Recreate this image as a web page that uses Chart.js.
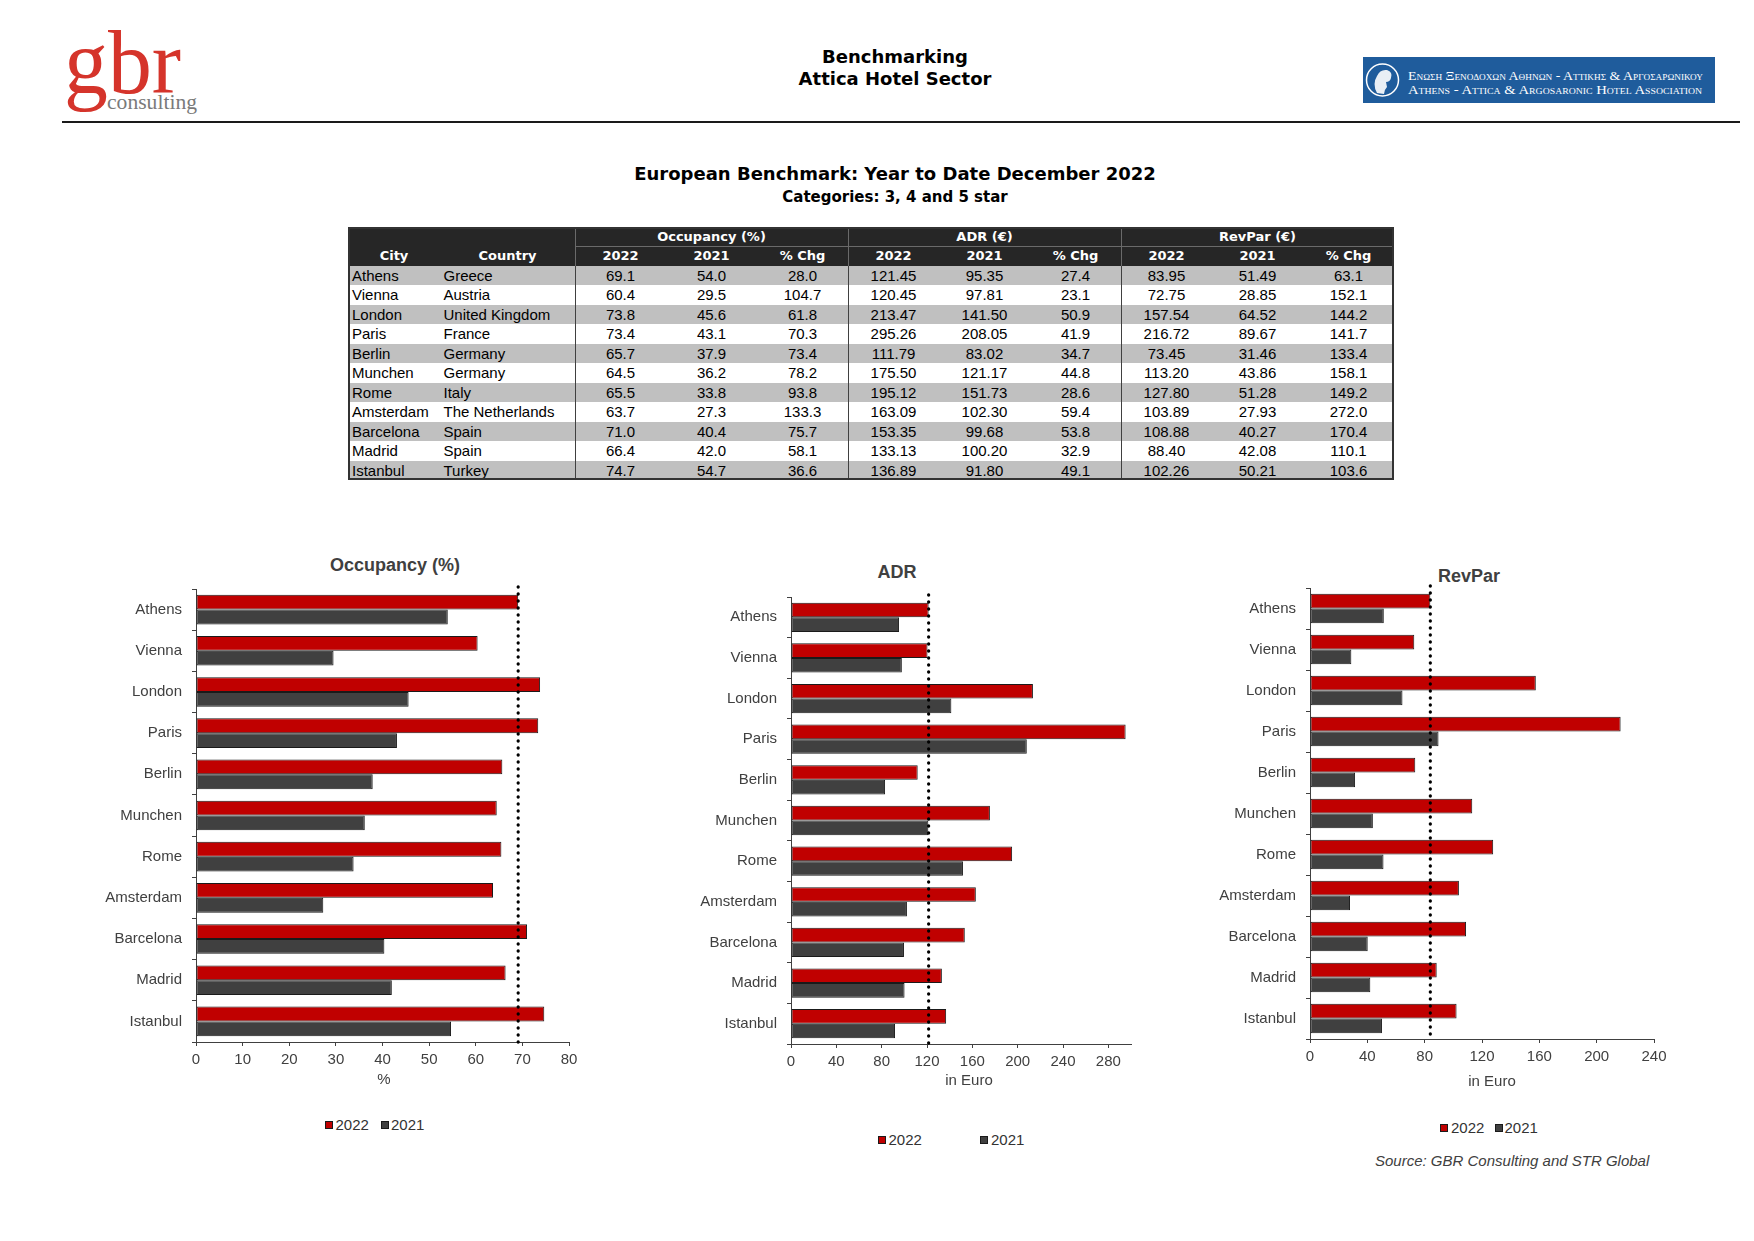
<!DOCTYPE html>
<html>
<head>
<meta charset="utf-8">
<script src="https://cdn.jsdelivr.net/npm/chart.js@4.4.1/dist/chart.umd.min.js"></script>
<style>
html,body{margin:0;padding:0;background:#fff;}
#page{position:relative;width:1754px;height:1241px;overflow:hidden;font-family:"Liberation Sans",Arial,sans-serif;background:#fff;}
.abs{position:absolute;}
.ctr{position:absolute;text-align:center;white-space:nowrap;}
.hdr{font-family:"DejaVu Sans",Verdana,sans-serif;font-weight:bold;color:#000;}
.ctitle{font-family:"Liberation Sans",Arial,sans-serif;font-weight:bold;font-size:18px;line-height:22px;color:#404040;}
#tbl{position:absolute;left:348px;top:227px;width:1046px;height:253px;}
.cell{position:absolute;white-space:nowrap;font-size:15px;color:#000;}
.hcell{position:absolute;white-space:nowrap;font-family:"DejaVu Sans",Verdana,sans-serif;font-weight:bold;font-size:13px;color:#fff;text-align:center;}
.lgbox{position:absolute;width:8px;height:8px;box-sizing:border-box;border:1px solid #1a1a1a;}
.lgtxt{position:absolute;font-size:15px;line-height:18px;color:#333;white-space:nowrap;}
canvas{position:absolute;display:block;}
</style>
</head>
<body>
<div id="page">
<svg class="abs" style="left:0;top:0" width="1754" height="130">
  <text x="64" y="93" font-family="Liberation Serif, Times New Roman, serif" font-size="92" fill="#d5342b" textLength="117" lengthAdjust="spacingAndGlyphs">gbr</text>
  <text x="107" y="109" font-family="Liberation Serif, Times New Roman, serif" font-size="21" fill="#7a7a7a" textLength="90" lengthAdjust="spacingAndGlyphs">consulting</text>
  <rect x="62" y="121" width="1678" height="2" fill="#1a1a1a"/>
  <rect x="1363" y="57" width="352" height="46" fill="#1f5c9c"/>
  <circle cx="1382.5" cy="80" r="16" fill="none" stroke="#fff" stroke-width="1.5"/>
  <path d="M1377 93 q-5 -9 0 -17 q3 -7 10 -6 q6 2 4 8 q-1 4 -5 4 l1 5 q-3 3 -3 7 z" fill="#fff" opacity="0.9"/>
  <text x="1408" y="80" font-family="Liberation Serif, DejaVu Serif, serif" font-size="13.5" fill="#fff" textLength="295" lengthAdjust="spacingAndGlyphs" style="font-variant:small-caps">Ενωση Ξενοδοχων Αθηνων - Αττικης &amp; Αργοσαρωνικου</text>
  <text x="1408" y="94" font-family="Liberation Serif, DejaVu Serif, serif" font-size="13.5" fill="#fff" textLength="294" lengthAdjust="spacingAndGlyphs" style="font-variant:small-caps">Athens - Attica &amp; Argosaronic Hotel Association</text>
</svg>

<div class="ctr hdr" style="left:595px;width:600px;top:46px;font-size:18px;line-height:22px;">Benchmarking</div>
<div class="ctr hdr" style="left:595px;width:600px;top:68px;font-size:18px;line-height:22px;">Attica Hotel Sector</div>
<div class="ctr hdr" style="left:495px;width:800px;top:163px;font-size:18px;line-height:22px;">European Benchmark: Year to Date December 2022</div>
<div class="ctr hdr" style="left:595px;width:600px;top:187px;font-size:15px;line-height:20px;">Categories: 3, 4 and 5 star</div>

<div id="tbl"></div>

<div class="ctr ctitle" style="left:245px;width:300px;top:554px;">Occupancy (%)</div>
<div class="ctr ctitle" style="left:747px;width:300px;top:561px;">ADR</div>
<div class="ctr ctitle" style="left:1319px;width:300px;top:565px;">RevPar</div>

<canvas id="cOcc" width="550" height="520" style="left:56px;top:569px;"></canvas>
<canvas id="cAdr" width="519" height="513" style="left:651px;top:577px;"></canvas>
<canvas id="cRev" width="530" height="523" style="left:1170px;top:568px;"></canvas>

<div id="legends"></div>

<div class="abs" style="left:1375px;top:1151px;font-size:15px;line-height:20px;font-style:italic;color:#404040;white-space:nowrap;">Source: GBR Consulting and STR Global</div>
</div>

<script>
// ---------------- DATA ----------------
const cities = ['Athens','Vienna','London','Paris','Berlin','Munchen','Rome','Amsterdam','Barcelona','Madrid','Istanbul'];
const countries = ['Greece','Austria','United Kingdom','France','Germany','Germany','Italy','The Netherlands','Spain','Spain','Turkey'];
const occ2022 = [69.1,60.4,73.8,73.4,65.7,64.5,65.5,63.7,71.0,66.4,74.7];
const occ2021 = [54.0,29.5,45.6,43.1,37.9,36.2,33.8,27.3,40.4,42.0,54.7];
const occChg  = [28.0,104.7,61.8,70.3,73.4,78.2,93.8,133.3,75.7,58.1,36.6];
const adr2022 = [121.45,120.45,213.47,295.26,111.79,175.50,195.12,163.09,153.35,133.13,136.89];
const adr2021 = [95.35,97.81,141.50,208.05,83.02,121.17,151.73,102.30,99.68,100.20,91.80];
const adrChg  = [27.4,23.1,50.9,41.9,34.7,44.8,28.6,59.4,53.8,32.9,49.1];
const rev2022 = [83.95,72.75,157.54,216.72,73.45,113.20,127.80,103.89,108.88,88.40,102.26];
const rev2021 = [51.49,28.85,64.52,89.67,31.46,43.86,51.28,27.93,40.27,42.08,50.21];
const revChg  = [63.1,152.1,144.2,141.7,133.4,158.1,149.2,272.0,170.4,110.1,103.6];
const seriesLabels = ['2022','2021'];
const colHeaders = ['2022','2021','% Chg'];
const groupTitles = ['Occupancy (%)','ADR (€)','RevPar (€)'];
const occTicks = {min:0, max:80, step:10};
const adrTicks = {min:0, max:300, step:40};
const revTicks = {min:0, max:240, step:40};

// ---------------- TABLE ----------------
(function buildTable(){
  const T = document.getElementById('tbl');
  const W = 1046, H1 = 19, H2 = 19.5, RH = 19.5, HH = H1 + H2;
  const cityW = 92, countryW = 135, colW = 91, g0 = cityW + countryW;
  function div(cls, x, y, w, h, text, extra){
    const d = document.createElement('div');
    d.className = cls;
    d.style.left = x + 'px'; d.style.top = y + 'px';
    d.style.width = w + 'px'; d.style.height = h + 'px';
    d.style.lineHeight = h + 'px';
    if (extra) Object.assign(d.style, extra);
    if (text !== undefined) d.textContent = text;
    T.appendChild(d);
    return d;
  }
  div('abs', 0, 0, W, HH, undefined, {background:'#262626'});
  cities.forEach((c,i)=>{
    if (i % 2 === 0) div('abs', 0, HH + i*RH, W, RH, undefined, {background:'#c0c0c0'});
  });
  div('hcell', 0, H1, cityW, H2, 'City');
  div('hcell', cityW, H1, countryW, H2, 'Country');
  const groups = [[occ2022,occ2021,occChg,[1,1,1]],[adr2022,adr2021,adrChg,[2,2,1]],[rev2022,rev2021,revChg,[2,2,1]]];
  groups.forEach((g,gi)=>{
    const gx = g0 + gi*3*colW;
    div('hcell', gx, 0, 3*colW, H1, groupTitles[gi]);
    colHeaders.forEach((h,k)=> div('hcell', gx + k*colW, H1, colW, H2, h));
  });
  cities.forEach((c,i)=>{
    const y = HH + i*RH;
    div('cell', 4, y, cityW-4, RH, c);
    div('cell', cityW + 3.5, y, countryW-4, RH, countries[i]);
    groups.forEach((g,gi)=>{
      const gx = g0 + gi*3*colW;
      for (let k=0;k<3;k++){
        div('cell', gx + k*colW, y, colW, RH, g[k][i].toFixed(g[3][k]), {textAlign:'center'});
      }
    });
  });
  div('abs', g0, H1, 3*3*colW, 1, undefined, {background:'#6a6a6a'});
  for (let gi=0; gi<3; gi++){
    const gx = g0 + gi*3*colW;
    div('abs', gx, 0, 1, HH, undefined, {background:'#6a6a6a'});
    div('abs', gx, HH, 1, 253-HH, undefined, {background:'#404040'});
  }
  div('abs', 0, 0, W, 253, undefined, {border:'2px solid #333', boxSizing:'border-box'});
})();

// ---------------- LEGENDS ----------------
(function buildLegends(){
  const L = document.getElementById('legends');
  const colors = ['#c00000','#404040'];
  const specs = [
    {cy:1124.5, items:[[325,335.5],[381,391]]},
    {cy:1140, items:[[878,888.5],[980,991]]},
    {cy:1128.3, items:[[1440,1451],[1494.5,1504.5]]}
  ];
  specs.forEach(s=>{
    s.items.forEach((it,k)=>{
      const b = document.createElement('div');
      b.className = 'lgbox'; b.style.left = it[0]+'px'; b.style.top = (s.cy-4)+'px'; b.style.background = colors[k];
      L.appendChild(b);
      const t = document.createElement('div');
      t.className = 'lgtxt'; t.style.left = it[1]+'px'; t.style.top = (s.cy-9)+'px'; t.textContent = seriesLabels[k];
      L.appendChild(t);
    });
  });
})();

// ---------------- CHARTS ----------------
Chart.defaults.font.family = "'Liberation Sans', Arial, sans-serif";
Chart.defaults.color = '#404040';

const refLine = {
  id: 'refLine',
  afterDatasetsDraw(chart, args, opts){
    const x = chart.scales.x.getPixelForValue(opts.value);
    const {top, bottom} = chart.chartArea;
    const ctx = chart.ctx;
    ctx.save();
    ctx.strokeStyle = '#000';
    ctx.lineWidth = 3.3;
    ctx.lineCap = 'round';
    ctx.setLineDash([0, 7]);
    ctx.beginPath();
    ctx.moveTo(x, top - 2);
    ctx.lineTo(x, bottom + 2);
    ctx.stroke();
    ctx.restore();
  }
};

const axisTitle = {
  id: 'axisTitle',
  afterDraw(chart, args, o){
    const xs = chart.scales.x;
    const {left, right} = chart.chartArea;
    const ctx = chart.ctx;
    ctx.save();
    ctx.font = "15px 'Liberation Sans', Arial, sans-serif";
    ctx.fillStyle = '#404040';
    ctx.textAlign = 'center';
    ctx.textBaseline = 'middle';
    ctx.fillText(o.text, (left + right) / 2 + o.dx, xs.bottom - 9);
    ctx.restore();
  }
};

function makeChart(id, d2022, d2021, tk, title, titleDx, dims){
  const ds = (label, data, color) => ({
    label, data, backgroundColor: color, borderColor: '#1a1a1a', borderWidth: 1,
    borderSkipped: false, barPercentage: 1, categoryPercentage: 0.72
  });
  return new Chart(document.getElementById(id), {
    type: 'bar',
    data: { labels: cities, datasets: [ds(seriesLabels[0], d2022, '#c00000'), ds(seriesLabels[1], d2021, '#404040')] },
    options: {
      indexAxis: 'y', responsive: false, maintainAspectRatio: false, animation: false, devicePixelRatio: 1,
      layout: { padding: { top: dims.tp, right: dims.rp, left: 0, bottom: 0 } },
      plugins: {
        legend: {display:false}, title: {display:false}, tooltip: {enabled:false},
        refLine: { value: d2022[0] },
        axisTitle: { text: title, dx: titleDx }
      },
      scales: {
        x: {
          type: 'linear', min: tk.min, max: tk.max, bounds: 'data',
          ticks: { stepSize: tk.step, includeBounds: false, padding: 5, color: '#404040', font: {size: 15}, maxRotation: 0, autoSkip: false },
          afterBuildTicks(s){
            s.ticks = s.ticks.filter(t => Math.abs(t.value / tk.step - Math.round(t.value / tk.step)) < 1e-9);
          },
          grid: { drawOnChartArea: false, tickLength: 4, color: '#404040' },
          border: { color: '#404040' },
          title: { display: false },
          afterFit(s){ s.height = dims.xH; }
        },
        y: {
          ticks: { padding: 10, color: '#404040', font: {size: 15}, autoSkip: false },
          grid: { drawOnChartArea: false, tickLength: 4, color: '#404040', offset: true },
          border: { color: '#404040' },
          afterFit(s){ s.width = dims.yW; }
        }
      }
    },
    plugins: [refLine, axisTitle]
  });
}

makeChart('cOcc', occ2022, occ2021, occTicks, '%', 1.5, {yW:140, tp:20, rp:37, xH:47});
makeChart('cAdr', adr2022, adr2021, adrTicks, 'in Euro', 8, {yW:140, tp:20, rp:39, xH:46});
makeChart('cRev', rev2022, rev2021, revTicks, 'in Euro', 10, {yW:140, tp:20, rp:46, xH:52});
</script>
</body>
</html>
